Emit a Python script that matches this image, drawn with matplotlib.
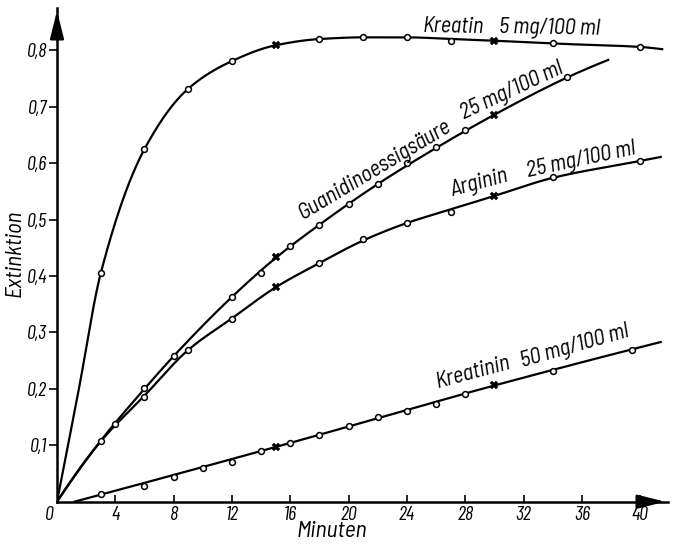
import numpy as np
import matplotlib.pyplot as plt

LABEL_FONT = ['Barlow Semi Condensed', 'Roboto Condensed', 'DejaVu Sans']
TICK_FONT = ['Barlow Condensed', 'Roboto Condensed', 'DejaVu Sans']
plt.rcParams['font.family'] = LABEL_FONT
plt.rcParams['font.style'] = 'italic'

# Kreatin 5 mg/100 ml
kreatin_x = [3, 6, 9, 12, 18, 21, 24, 27, 34, 40]
kreatin_y = [0.405, 0.625, 0.732, 0.781, 0.820, 0.823, 0.823, 0.816, 0.813, 0.806]
kreatin_cx = [15, 30]
kreatin_cy = [0.809, 0.817]
kreatin_line_x = [0, 1.5, 3, 6, 9, 12, 15, 18, 21, 24, 27, 30, 34, 40, 41.5]
kreatin_line_y = [0, 0.2, 0.405, 0.625, 0.732, 0.781, 0.809, 0.820, 0.823, 0.823, 0.820, 0.817, 0.812, 0.806, 0.802]

# Guanidinoessigsaeure 25 mg/100 ml
guan_x = [3, 4, 6, 8, 12, 14, 16, 18, 20, 22, 24, 26, 28, 35]
guan_y = [0.108, 0.138, 0.202, 0.258, 0.363, 0.405, 0.454, 0.491, 0.528, 0.563, 0.600, 0.628, 0.659, 0.752]
guan_cx = [15, 30]
guan_cy = [0.433, 0.686]
guan_line_x = [0, 3, 6, 8, 12, 15, 18, 22, 26, 30, 35, 37.8]
guan_line_y = [0, 0.108, 0.200, 0.258, 0.363, 0.432, 0.491, 0.563, 0.627, 0.686, 0.752, 0.783]

# Arginin 25 mg/100 ml
arg_x = [6, 9, 12, 18, 21, 24, 27, 34, 40]
arg_y = [0.186, 0.269, 0.323, 0.423, 0.465, 0.494, 0.514, 0.576, 0.604]
arg_cx = [15, 30]
arg_cy = [0.380, 0.542]
arg_line_x = [0, 3, 6, 9, 12, 15, 18, 21, 24, 27, 30, 34, 40, 41.4]
arg_line_y = [0, 0.107, 0.188, 0.269, 0.325, 0.380, 0.423, 0.463, 0.494, 0.518, 0.542, 0.574, 0.604, 0.611]

# Kreatinin 50 mg/100 ml
krn_x = [3, 6, 8, 10, 12, 14, 16, 18, 20, 22, 24, 26, 28, 34, 39.4]
krn_y = [0.014, 0.028, 0.044, 0.059, 0.071, 0.090, 0.104, 0.118, 0.135, 0.151, 0.161, 0.174, 0.190, 0.232, 0.269]
krn_cx = [15, 30]
krn_cy = [0.0975, 0.206]
krn_line_x = [1.2, 15, 30, 41.4]
krn_line_y = [0, 0.097, 0.206, 0.283]

xticks = [4, 8, 12, 16, 20, 24, 28, 32, 36, 40]
yticks = [0.1, 0.2, 0.3, 0.4, 0.5, 0.6, 0.7, 0.8]


def pchip(xk, yk, xs):
    # monotone cubic through the curve knots, just for a smooth pen line
    xk = np.asarray(xk, float)
    yk = np.asarray(yk, float)
    h = np.diff(xk)
    d = np.diff(yk) / h
    n = len(xk)
    m = np.zeros(n)
    for k in range(1, n - 1):
        if d[k - 1] * d[k] > 0:
            w1 = 2 * h[k] + h[k - 1]
            w2 = h[k] + 2 * h[k - 1]
            m[k] = (w1 + w2) / (w1 / d[k - 1] + w2 / d[k])
    m[0] = ((2 * h[0] + h[1]) * d[0] - h[0] * d[1]) / (h[0] + h[1])
    if np.sign(m[0]) != np.sign(d[0]):
        m[0] = 0
    m[-1] = ((2 * h[-1] + h[-2]) * d[-1] - h[-1] * d[-2]) / (h[-1] + h[-2])
    if np.sign(m[-1]) != np.sign(d[-1]):
        m[-1] = 0
    i = np.clip(np.searchsorted(xk, xs) - 1, 0, n - 2)
    t = (xs - xk[i]) / h[i]
    h00 = 2 * t**3 - 3 * t**2 + 1
    h10 = t**3 - 2 * t**2 + t
    h01 = -2 * t**3 + 3 * t**2
    h11 = t**3 - t**2
    return h00 * yk[i] + h10 * h[i] * m[i] + h01 * yk[i + 1] + h11 * h[i] * m[i + 1]


fig = plt.figure(figsize=(6.78, 5.45), dpi=100)
ax = fig.add_axes([57 / 678, 1 - 501.7 / 545, (668 - 57) / 678, (501.7 - 8) / 545])
ax.set_xlim(0, 41.9)
ax.set_ylim(0, 0.875)

series = [
    (kreatin_line_x, kreatin_line_y, kreatin_x, kreatin_y, kreatin_cx, kreatin_cy),
    (guan_line_x, guan_line_y, guan_x, guan_y, guan_cx, guan_cy),
    (arg_line_x, arg_line_y, arg_x, arg_y, arg_cx, arg_cy),
    (krn_line_x, krn_line_y, krn_x, krn_y, krn_cx, krn_cy),
]
for lx, ly, px, py, cx, cy in series:
    xs = np.linspace(lx[0], lx[-1], 400)
    ax.plot(xs, pchip(lx, ly, xs), color='black', lw=1.6, zorder=2)
    ax.plot(px, py, 'o', ms=4.2, mfc='white', mec='black', mew=1.1, zorder=3)
    ax.plot(cx, cy, 'X', ms=6, mfc='black', mec='black', mew=0.3, zorder=3)

for s in ['top', 'right']:
    ax.spines[s].set_visible(False)
for s in ['left', 'bottom']:
    ax.spines[s].set_linewidth(1.8)

arrow = dict(arrowstyle='-|>,head_length=1.4,head_width=0.35', color='black', lw=1.8, mutation_scale=12)
ax.annotate('', xy=(1.0, 0), xytext=(0.96, 0), xycoords='axes fraction',
            arrowprops=arrow, annotation_clip=False)
ax.annotate('', xy=(0, 1.0), xytext=(0, 0.95), xycoords='axes fraction',
            arrowprops=arrow, annotation_clip=False)

ax.set_xticks(xticks)
ax.set_xticklabels([str(v) for v in xticks], family=TICK_FONT)
ax.set_yticks(yticks)
ax.set_yticklabels([('%.1f' % v).replace('.', ',') for v in yticks], family=TICK_FONT)
ax.tick_params(axis='x', direction='in', length=5, width=1.2, pad=3, labelsize=14.5)
ax.tick_params(axis='y', direction='out', length=6, width=1.2, pad=1, labelsize=14.5)
# the lone "0" at the origin sits a bit left of the corner
ax.text(-0.55, -0.024, '0', ha='center', va='center', fontsize=14.5, family=TICK_FONT, clip_on=False)

fig.text(15 / 678, 1 - 253 / 545, 'Extinktion', rotation=90, ha='center', va='center', fontsize=16.5)
fig.text(332 / 678, 1 - 542 / 545, 'Minuten', ha='center', va='bottom', fontsize=17)

lab = dict(fontsize=16, ha='left', va='baseline', rotation_mode='anchor')
ax.text(25.1, 0.833, 'Kreatin', rotation=-1, **lab)
ax.text(30.3, 0.830, '5 mg/100 ml', rotation=-1, **lab)
ax.text(16.9, 0.500, 'Guanidinoessigsäure', rotation=31, **lab)
ax.text(27.9, 0.677, '25 mg/100 ml', rotation=25, **lab)
ax.text(27.1, 0.541, 'Arginin', rotation=15, **lab)
ax.text(32.3, 0.576, '25 mg/100 ml', rotation=12, **lab)
ax.text(26.1, 0.201, 'Kreatinin', rotation=15, **lab)
ax.text(31.9, 0.239, '50 mg/100 ml', rotation=16, **lab)

fig.savefig('out.png', dpi=100)
